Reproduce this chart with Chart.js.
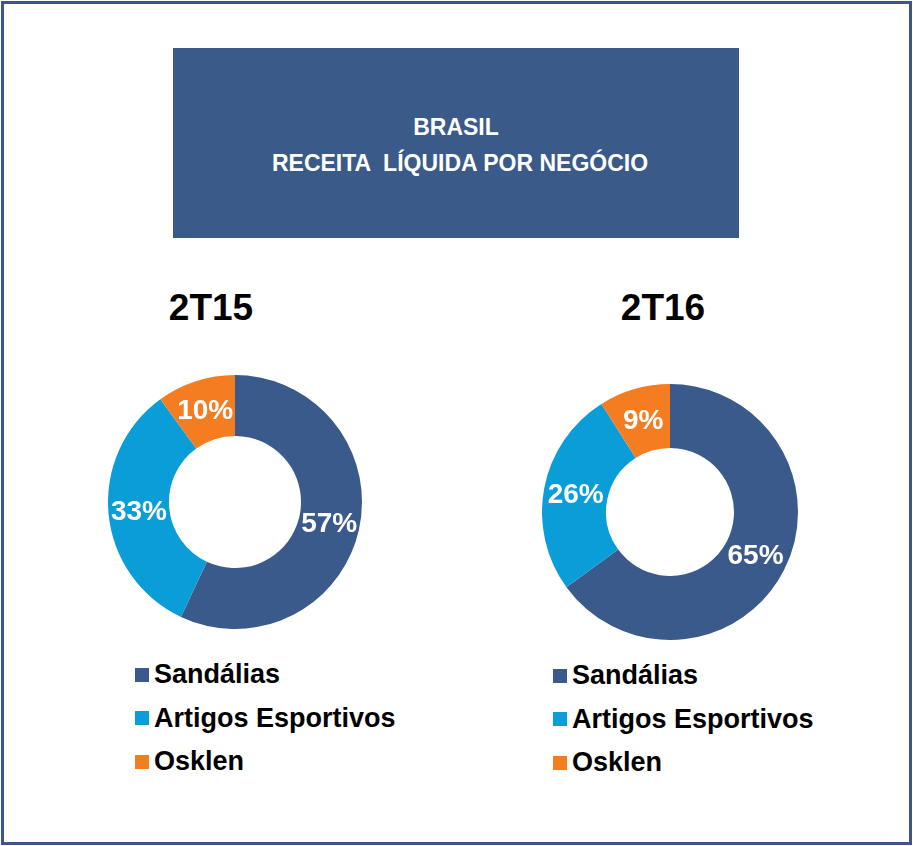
<!DOCTYPE html>
<html>
<head>
<meta charset="utf-8">
<script src="https://cdn.jsdelivr.net/npm/chart.js@4/dist/chart.umd.min.js"></script>
<style>
  body { margin: 0; width: 913px; height: 846px; background: #fff; position: relative; overflow: hidden;
         font-family: "Liberation Sans", Arial, sans-serif; }
  .frame { position: absolute; left: 1px; top: 1px; width: 911px; height: 844px; box-sizing: border-box;
           border: 3px solid #3F5587; }
  .banner { position: absolute; left: 173px; top: 48px; width: 566px; height: 190px; background: #3A5A8A; }
  .banner div { position: absolute; left: 0; width: 100%; text-align: center; color: #fff; font-weight: bold;
                font-size: 23px; line-height: 23px; white-space: pre; }
  .ptitle { position: absolute; width: 200px; text-align: center; font-weight: bold; font-size: 37px; line-height: 37px; color: #000; }
  canvas { position: absolute; }
  .legend { position: absolute; }
  .legend .row { height: 43.5px; display: flex; align-items: center; font-weight: bold; font-size: 27px; color: #000; white-space: nowrap; }
  .legend .sw { width: 14px; height: 14px; margin-right: 5px; flex: none; }
</style>
</head>
<body>
<div class="frame"></div>
<div class="banner">
  <div style="top:68px">BRASIL</div>
  <div style="top:104px; left:4px">RECEITA  LÍQUIDA POR NEGÓCIO</div>
</div>
<div class="ptitle" id="t1" style="left:111px; top:289px"></div>
<div class="ptitle" id="t2" style="left:563px; top:289px"></div>
<canvas id="c1" width="254" height="254" style="left:107.5px; top:375px"></canvas>
<canvas id="c2" width="256" height="256" style="left:542px; top:383.5px"></canvas>
<div class="legend" id="lg1" style="left:135px; top:653px"></div>
<div class="legend" id="lg2" style="left:553px; top:654px"></div>
<script>
// segment names and colours
const segments = ['Sandálias', 'Artigos Esportivos', 'Osklen'];
const segColors = ['#3A5A8C', '#0B9DD8', '#F37D20'];

// periods shown side by side
const periods = ['2T15', '2T16'];
const share2T15 = [57, 33, 10];
const share2T16 = [65, 26, 9];

const pctLabels = {
  id: 'pctLabels',
  afterDatasetsDraw(chart) {
    const ctx = chart.ctx;
    const ds = chart.data.datasets[0];
    ctx.save();
    ctx.fillStyle = '#fff';
    ctx.font = 'bold 28px "Liberation Sans", Arial, sans-serif';
    ctx.textAlign = 'center';
    ctx.textBaseline = 'middle';
    chart.getDatasetMeta(0).data.forEach((arc, i) => {
      const p = arc.getCenterPoint();
      ctx.fillText(ds.data[i] + '%', p.x, p.y + 1);
    });
    ctx.restore();
  }
};

function buildDonut(id, values, cut) {
  new Chart(document.getElementById(id), {
    type: 'doughnut',
    data: {
      labels: segments,
      datasets: [{ data: values, backgroundColor: segColors, borderWidth: 0 }]
    },
    options: {
      responsive: false,
      animation: false,
      cutout: cut,
      layout: { padding: 0 },
      plugins: { legend: { display: false }, tooltip: { enabled: false } }
    },
    plugins: [pctLabels]
  });
}

function buildLegend(id) {
  const el = document.getElementById(id);
  segments.forEach((s, i) => {
    const row = document.createElement('div');
    row.className = 'row';
    row.innerHTML = '<span class="sw" style="background:' + segColors[i] + '"></span>' + s;
    el.appendChild(row);
  });
}

document.getElementById('t1').textContent = periods[0];
document.getElementById('t2').textContent = periods[1];
buildDonut('c1', share2T15, '52%');
buildDonut('c2', share2T16, '50%');
buildLegend('lg1');
buildLegend('lg2');
</script>
</body>
</html>
